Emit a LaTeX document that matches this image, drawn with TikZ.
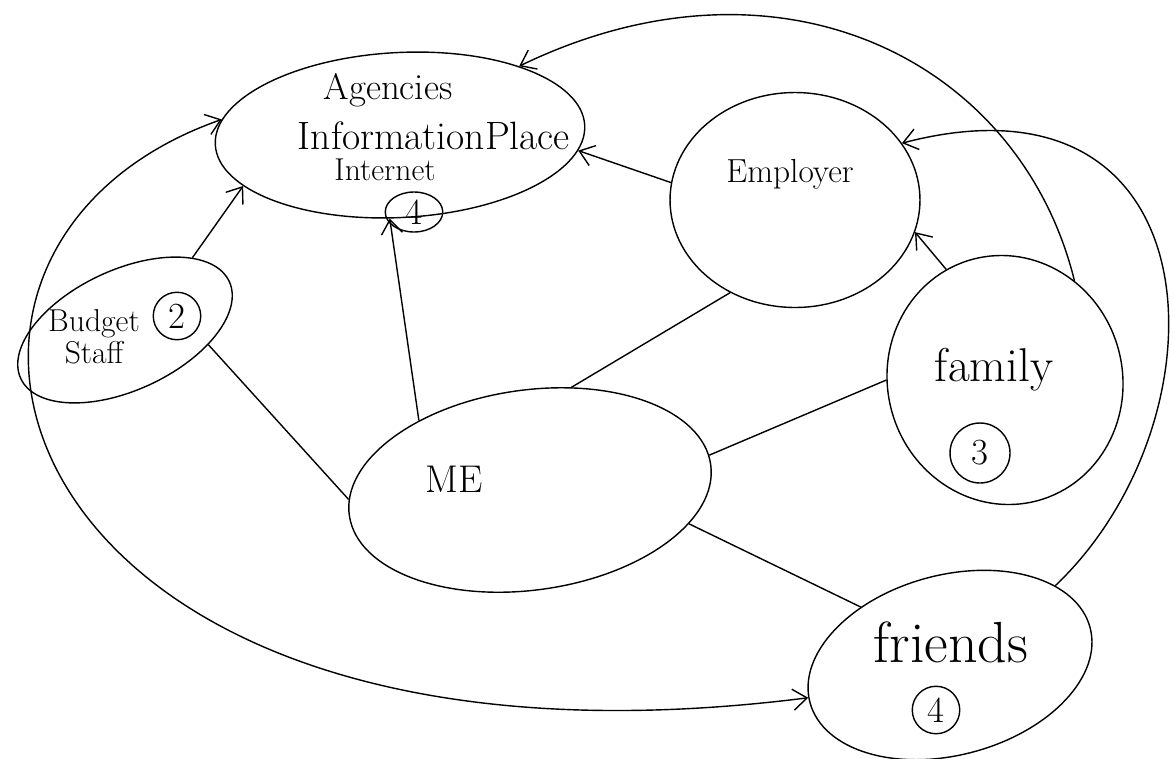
\documentclass[tikz,border=0pt]{standalone}
\usetikzlibrary{shapes.geometric,arrows.meta}

\tikzstyle{blob} = [ellipse, draw, thick, inner sep=0pt]
\tikzstyle{num} = [circle, draw, thick, inner sep=0pt, minimum size=0.95cm, font=\fontsize{21}{23}\selectfont]
\tikzstyle{link} = [thick, >={Straight Barb[length=8pt,width=12pt]}]

\begin{document}
\begin{tikzpicture}[x=0.02cm, y=-0.02cm]
\useasboundingbox (0,0) rectangle (1175,758);

\node[blob, minimum width=7.4cm, minimum height=3.3cm, rotate=3] (agencies) at (400,135) {};
\node[blob, minimum width=5cm, minimum height=4.3cm] (employer) at (795,200) {};
\node[blob, minimum width=4.6cm, minimum height=2.4cm, rotate=25] (budget) at (125,330) {};
\node[blob, minimum width=4.7cm, minimum height=5cm, rotate=15] (family) at (1005,380) {};
\node[blob, minimum width=7.3cm, minimum height=4cm, rotate=8] (me) at (530,490) {};
\node[blob, minimum width=5.8cm, minimum height=3.6cm, rotate=15] (friends) at (950,665) {};

\node[font=\fontsize{21}{23}\selectfont] (agenciestext) at (388,90) {Agencies};
\node[font=\fontsize{22.5}{25}\selectfont] (placetext) at (434,136) {InformationPlace};
\node[font=\fontsize{18}{20}\selectfont] (internettext) at (385,170) {Internet};
\node[num, ellipse, minimum width=1.15cm, minimum height=0.8cm] (agenciesnum) at (414,212) {4};
\node[font=\fontsize{19}{21}\selectfont] (employertext) at (790,174) {Employer};
\node[align=center, font=\fontsize{18}{18}\selectfont] (budgettext) at (94,337) {Budget\\Staff};
\node[num] (budgetnum) at (177,316) {2};
\node[font=\fontsize{27}{30}\selectfont] (familytext) at (994,370) {family};
\node[num, minimum size=1.2cm] (familynum) at (980,453) {3};
\node[font=\fontsize{22}{24}\selectfont] (metext) at (454,479) {ME};
\node[font=\fontsize{33}{36}\selectfont] (friendstext) at (951,642) {friends};
\node[num] (friendsnum) at (936,710) {4};

\draw[link, ->] (me.140) -- (agencies.-100);
\draw[link] (budget.-35) -- (me.175);
\draw[link, ->] (budget.22) -- (agencies.-165);
\draw[link] (me.60) -- (employer.-125);
\draw[link] (me.3) -- (family.165);
\draw[link] (me.-20) -- (friends.132);
\draw[link, ->] (family.103) -- (employer.-15);
\draw[link, ->] (employer.172) -- (agencies.-8);
\draw[link, ->] (family.40) .. controls (1020,60) and (780,-60) .. (agencies.27);
\draw[link, ->] (friends.22) .. controls (1230,420) and (1220,60) .. (employer.28);
\draw[link, <->] (agencies.172) .. controls (-150,250) and (0,800) .. (friends.178);
\end{tikzpicture}
\end{document}
